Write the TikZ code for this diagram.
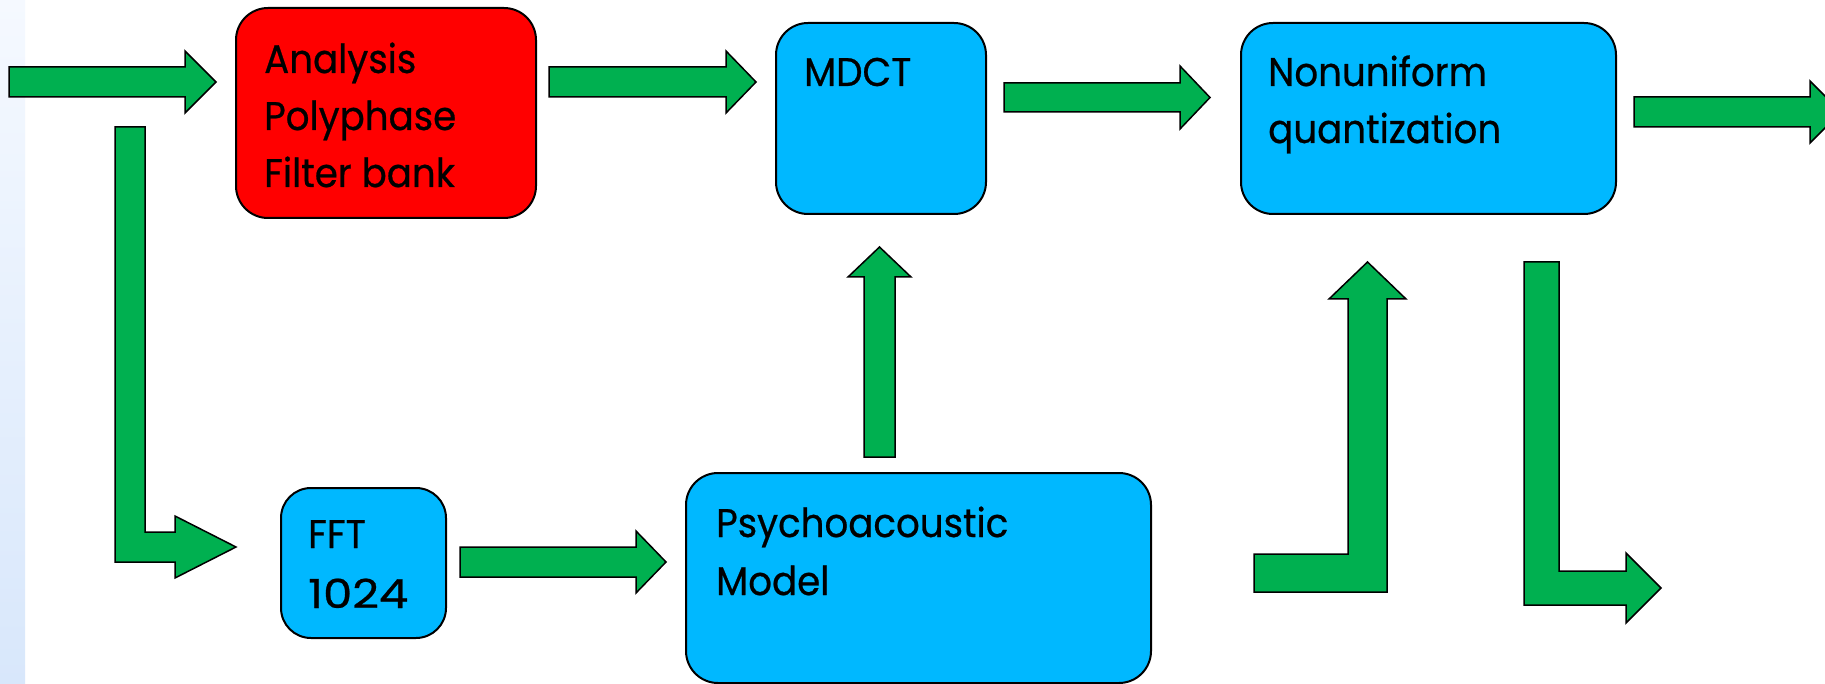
\documentclass[tikz,border=0pt]{standalone}
\usepackage{fontspec}
\setmainfont{Poppins}[FakeStretch=0.93,FakeBold=0.6]
\definecolor{grn}{HTML}{00B050}
\definecolor{blu}{HTML}{00B8FF}
\definecolor{stripTop}{HTML}{F5F9FF}
\definecolor{stripBot}{HTML}{D8E7FB}
\begin{document}
\begin{tikzpicture}[x=1pt,y=-1pt,
  box/.style={draw=black, line width=2pt, rounded corners=32pt, inner sep=0pt, anchor=north west, rectangle},
  barrow/.style={draw=black, line width=1.5pt, fill=grn, line join=miter},
  lbl/.style={anchor=base west, inner sep=0pt, font=\fontsize{40}{57}\selectfont}]
\useasboundingbox (0,0) rectangle (1825,684);
\clip (0,0) rectangle (1825,684);
\fill[white] (0,0) rectangle (1825,684);
\shade[top color=stripTop, bottom color=stripBot] (0,0) rectangle (25,684);

% boxes
\node[box, fill=red, minimum width=300pt, minimum height=210pt] (afb) at (235,7) {};
\node[box, fill=blu, minimum width=210pt, minimum height=191pt] (mdct) at (775,22) {};
\node[box, fill=blu, minimum width=375pt, minimum height=191pt] (nq) at (1240,22) {};
\node[box, fill=blu, minimum width=165pt, minimum height=150pt, rounded corners=30pt] (fft) at (280,487) {};
\node[box, fill=blu, minimum width=465pt, minimum height=210pt] (pm) at (685,472) {};

% labels
\node[lbl] (afb1) at (264,73) {Analysis};
\node[lbl] (afb2) at (264,130) {Polyphase};
\node[lbl] (afb3) at (264,187) {Filter bank};
\node[lbl] (mdct1) at (804,86) {MDCT};
\node[lbl] (nq1) at (1268,86) {Nonuniform};
\node[lbl] (nq2) at (1268,143) {quantization};
\node[lbl] (fft1) at (308,548) {FFT};
\node[lbl] (fft2) at (308,608) {\scalebox{1.25}[1]{1024}};
\node[lbl] (pm1) at (716,537) {Psychoacoustic};
\node[lbl] (pm2) at (716,595) {Model};

% block arrows
\draw[barrow] (9,67) -- (185,67) -- (185,51) -- (216,82) -- (185,113) -- (185,97) -- (9,97) -- cycle;
\draw[barrow] (549,67) -- (726,67) -- (726,51) -- (756,82) -- (726,113) -- (726,97) -- (549,97) -- cycle;
\draw[barrow] (1004,83) -- (1180,83) -- (1180,66) -- (1210,97.5) -- (1180,129) -- (1180,112) -- (1004,112) -- cycle;
\draw[barrow] (1634,97) -- (1810,97) -- (1810,81) -- (1841,112) -- (1810,143) -- (1810,127) -- (1634,127) -- cycle;
\draw[barrow] (460,547) -- (636,547) -- (636,531) -- (666,562) -- (636,593) -- (636,577) -- (460,577) -- cycle;
\draw[barrow] (864,457) -- (864,277) -- (848,277) -- (879.5,247) -- (911,277) -- (895,277) -- (895,457) -- cycle;
\draw[barrow] (115,127) -- (145,127) -- (145,532) -- (175,532) -- (175,516) -- (236,547) -- (175,578) -- (175,562) -- (115,562) -- cycle;
\draw[barrow] (1254,554) -- (1348,554) -- (1348,299) -- (1329,299) -- (1367.5,262) -- (1406,299) -- (1387,299) -- (1387,592) -- (1254,592) -- cycle;
\draw[barrow] (1524,262) -- (1559,262) -- (1559,571) -- (1626,571) -- (1626,553) -- (1661,588) -- (1626,623) -- (1626,605) -- (1524,605) -- cycle;
\end{tikzpicture}
\end{document}
